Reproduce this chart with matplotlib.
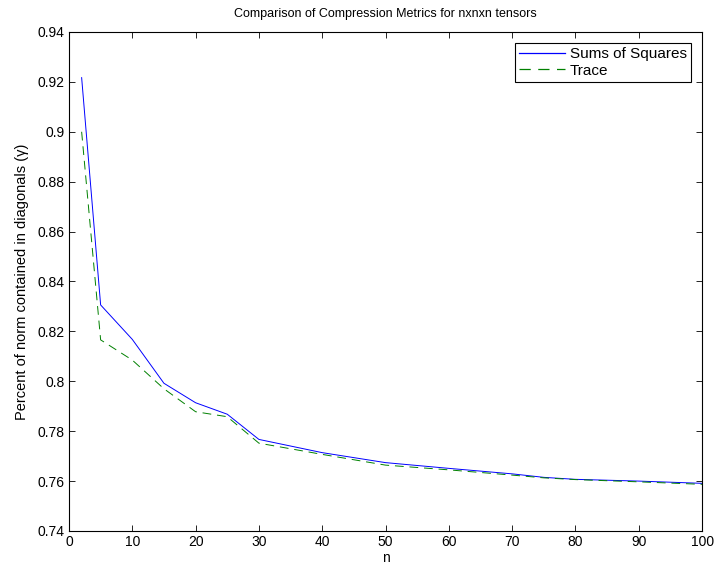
import matplotlib
matplotlib.use('Agg')
import matplotlib.pyplot as plt

plt.rcParams['font.family'] = ['Liberation Sans', 'DejaVu Sans']
plt.rcParams['font.size'] = 10

# data
n = [2, 5, 10, 15, 20, 25, 30, 40, 50, 60, 70, 75, 80, 90, 100]
sums_of_squares = [0.9217, 0.8306, 0.8168, 0.7992, 0.7914, 0.7868, 0.7767, 0.7714,
                   0.7674, 0.7651, 0.7629, 0.7615, 0.7607, 0.7600, 0.7591]
trace = [0.9000, 0.8166, 0.8085, 0.7970, 0.7878, 0.7858, 0.7752, 0.7707,
         0.7664, 0.7645, 0.7624, 0.7613, 0.7606, 0.7597, 0.7587]

blue = '#0000ff'
green = '#008000'

fig = plt.figure(figsize=(7.17, 5.69), dpi=100)
ax = fig.add_axes([0.0962, 0.0668, 0.883, 0.8770])

ax.plot(n, sums_of_squares, color=blue, linewidth=0.7, label='Sums of Squares')
ax.plot(n, trace, color=green, linewidth=0.7, linestyle=(0, (9, 6)), label='Trace')

ax.set_xlim(0, 100)
ax.set_ylim(0.74, 0.94)
ax.set_xticks(range(0, 101, 10))
ax.set_yticks([0.74 + 0.02 * i for i in range(11)])
ax.set_yticklabels(['0.74', '0.76', '0.78', '0.8', '0.82', '0.84', '0.86', '0.88', '0.9', '0.92', '0.94'])
ax.tick_params(direction='in', top=True, right=True, length=4.5, width=0.6, pad=3)
for s in ax.spines.values():
    s.set_linewidth(0.8)

ax.set_xlabel('n', labelpad=1)
ax.set_ylabel('Percent of norm contained in diagonals (\u03b3)', fontsize=10.5, labelpad=6)
ax.set_title('Comparison of Compression Metrics for nxnxn tensors', fontsize=9, pad=11)

leg = ax.legend(loc='upper right', fancybox=False, edgecolor='black', framealpha=1,
                handlelength=3.0, borderaxespad=0.7, borderpad=0.3, labelspacing=0.15,
                handletextpad=0.3, fontsize=11)
leg.get_frame().set_linewidth(0.8)
for line, c in zip(leg.get_lines(), [blue, green]):
    line.set_color(c)
    line.set_linewidth(0.9)

fig.savefig('out.png', dpi=100)
